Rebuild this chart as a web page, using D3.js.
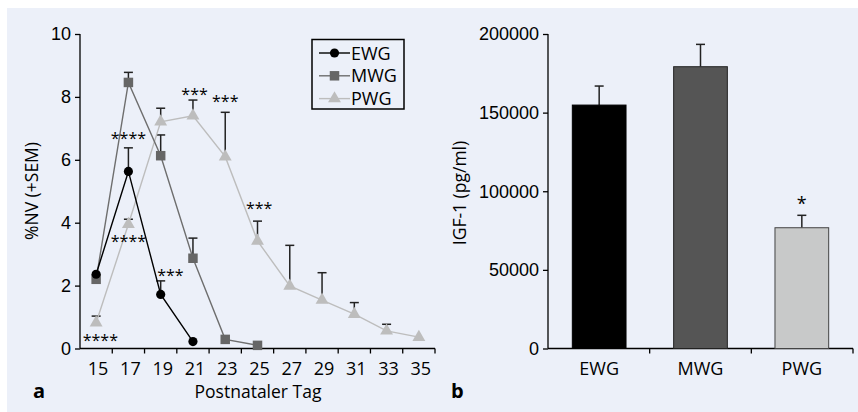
<!DOCTYPE html>
<html>
<head>
<meta charset="utf-8">
<script src="https://cdn.jsdelivr.net/npm/d3@7/dist/d3.min.js"></script>
<style>
  html, body { margin: 0; padding: 0; background: #ffffff; }
  svg { display: block; font-family: "Open Sans", "Noto Sans", sans-serif; }
</style>
</head>
<body>
<svg id="chart" width="858" height="412"></svg>
<script>
// ---------- Data: panel a ----------
const days = [15, 17, 19, 21, 23, 25, 27, 29, 31, 33, 35];
const dayTicks = [0, 2, 4, 6, 8, 10];
const seriesNames = ["EWG", "MWG", "PWG"];
const ewgDays = [15, 17, 19, 21];
const ewgMean = [2.36, 5.63, 1.72, 0.22];
const ewgTop  = [null, 6.38, 2.15, null];
const mwgDays = [15, 17, 19, 21, 23, 25];
const mwgMean = [2.2, 8.46, 6.13, 2.87, 0.29, 0.1];
const mwgTop  = [null, 8.78, 6.79, 3.51, null, null];
const pwgDays = [15, 17, 19, 21, 23, 25, 27, 29, 31, 33, 35];
const pwgMean = [0.82, 3.95, 7.21, 7.40, 6.10, 3.42, 1.99, 1.54, 1.09, 0.56, 0.36];
const pwgTop  = [1.03, 4.11, 7.64, 7.90, 7.51, 4.05, 3.28, 2.41, 1.46, 0.77, null];
// significance marks: day, shift (in bands), value of mark centre, text
const sigDays  = [17, 21, 23, 25, 17, 19, 15];
const sigShift = [0, 0.05, 0, 0.05, 0, 0.3, 0.13];
const sigValue = [6.72, 8.12, 7.9, 4.5, 3.45, 2.37, 0.3];
const sigText  = ["****", "***", "***", "***", "****", "***", "****"];

// ---------- Data: panel b ----------
const groups = ["EWG", "MWG", "PWG"];
const igfMean = [154800, 179200, 76800];
const igfTop  = [166900, 193400, 84700];
const igfTicks = [0, 50000, 100000, 150000, 200000];
const igfSig = ["", "", "*"];

// ---------- Drawing ----------
const FS = 18;
const svg = d3.select("#chart");
svg.append("rect").attr("x", 7).attr("y", 8).attr("width", 851).attr("height", 404).attr("fill", "#ecf0f9");

const styles = {
  EWG: { line: "#000000", fill: "#000000", shape: d3.symbolCircle, size: 66 },
  MWG: { line: "#6e6e6e", fill: "#666666", shape: d3.symbolSquare, size: 90 },
  PWG: { line: "#bdbdbd", fill: "#bdbdbd", shape: d3.symbolTriangle, size: 72 }
};
const series = [
  { name: "EWG", days: ewgDays, mean: ewgMean, top: ewgTop },
  { name: "MWG", days: mwgDays, mean: mwgMean, top: mwgTop },
  { name: "PWG", days: pwgDays, mean: pwgMean, top: pwgTop }
];

// Panel a
const ax = d3.scaleBand().domain(days).range([80, 435]).padding(0);
const ay = d3.scaleLinear().domain([0, 10]).range([348.5, 34]);
const ga = svg.append("g");
const cx = d => ax(d) + ax.bandwidth() / 2;

const yAxisA = ga.append("g").attr("transform", "translate(80,0)")
  .call(d3.axisLeft(ay).tickValues(dayTicks).tickSize(5).tickPadding(4));
yAxisA.select(".domain").attr("stroke-width", 1.3).attr("d", "M0,348.5V34");
yAxisA.selectAll(".tick line").attr("stroke-width", 1.3);
yAxisA.selectAll(".tick text").attr("font-size", FS).attr("font-family", null).attr("fill", "#000");

const xAxisA = ga.append("g").attr("transform", "translate(0,348.5)");
xAxisA.append("line").attr("x1", 80).attr("x2", ax.range()[1]).attr("stroke", "#000").attr("stroke-width", 1.3);
xAxisA.selectAll("line.tk").data(days.slice(1).map(d => ax(d)).concat([ax.range()[1]]))
  .join("line").attr("class", "tk").attr("x1", d => d).attr("x2", d => d).attr("y1", 0).attr("y2", 5)
  .attr("stroke", "#000").attr("stroke-width", 1.3);
xAxisA.selectAll("text").data(days).join("text")
  .attr("x", d => cx(d) + 2).attr("y", 26).attr("text-anchor", "middle")
  .attr("font-size", FS).text(d => d);

// error bars
series.forEach(s => {
  s.days.forEach((d, i) => {
    if (s.top[i] == null) return;
    const x = cx(d);
    ga.append("line").attr("x1", x).attr("x2", x).attr("y1", ay(s.mean[i])).attr("y2", ay(s.top[i]))
      .attr("stroke", "#222").attr("stroke-width", 1.5);
    ga.append("line").attr("x1", x - 4.5).attr("x2", x + 4.5).attr("y1", ay(s.top[i])).attr("y2", ay(s.top[i]))
      .attr("stroke", "#222").attr("stroke-width", 1.5);
  });
});
// lines & markers (PWG first, EWG on top)
[...series].reverse().forEach(s => {
  const st = styles[s.name];
  const line = d3.line().x((d, i) => cx(s.days[i])).y(d => ay(d));
  ga.append("path").attr("d", line(s.mean)).attr("fill", "none").attr("stroke", st.line).attr("stroke-width", 1.4);
  ga.selectAll(null).data(s.mean).join("path")
    .attr("transform", (d, i) => `translate(${cx(s.days[i])},${ay(d)})`)
    .attr("d", d3.symbol().type(st.shape).size(st.size)).attr("fill", st.fill);
});
// significance marks
sigText.forEach((t, i) => {
  ga.append("text").attr("x", cx(sigDays[i]) + sigShift[i] * ax.bandwidth())
    .attr("y", ay(sigValue[i]) + 7).attr("text-anchor", "middle")
    .attr("font-size", 16).text(t);
});
// legend
const lg = ga.append("g");
lg.append("rect").attr("x", 312).attr("y", 39.5).attr("width", 92).attr("height", 69.5)
  .attr("fill", "none").attr("stroke", "#000").attr("stroke-width", 1.5);
seriesNames.forEach((n, i) => {
  const st = styles[n];
  const y = 53 + i * 22.8;
  lg.append("line").attr("x1", 319).attr("x2", 350).attr("y1", y).attr("y2", y).attr("stroke", st.line).attr("stroke-width", 1.4);
  lg.append("path").attr("transform", `translate(334.5,${y})`).attr("d", d3.symbol().type(st.shape).size(st.size)).attr("fill", st.fill);
  lg.append("text").attr("x", 351).attr("y", y + 6.5).attr("font-size", FS).text(n);
});
// titles
ga.append("text").attr("x", 258).attr("y", 398).attr("text-anchor", "middle").attr("font-size", 17.5).text("Postnataler Tag");
ga.append("text").attr("transform", "translate(38,191) rotate(-90)").attr("text-anchor", "middle").attr("font-size", 17.5).text("%NV (+SEM)");
ga.append("text").attr("x", 33).attr("y", 398).attr("font-size", 20).attr("font-weight", "bold").text("a");

// Panel b
const bx = d3.scaleBand().domain(groups).range([548, 853]).paddingInner(0.47).paddingOuter(0.24);
const by = d3.scaleLinear().domain([0, 200000]).range([348.5, 34]);
const gb = svg.append("g");
const colors = { EWG: "#000000", MWG: "#555555", PWG: "#c8c9c9" };
const strokes = { EWG: "#000000", MWG: "#222222", PWG: "#444444" };

const yAxisB = gb.append("g").attr("transform", "translate(548,0)")
  .call(d3.axisLeft(by).tickValues(igfTicks).tickSize(5).tickPadding(4).tickFormat(d3.format("d")));
yAxisB.select(".domain").attr("stroke-width", 1.3).attr("d", "M0,348.5V34");
yAxisB.selectAll(".tick line").attr("stroke-width", 1.3);
yAxisB.selectAll(".tick text").attr("font-size", FS).attr("font-family", null).attr("fill", "#000");

const bandStep = (853 - 548) / groups.length;
const xAxisB = gb.append("g").attr("transform", "translate(0,348.5)");
xAxisB.append("line").attr("x1", 548).attr("x2", 853).attr("stroke", "#000").attr("stroke-width", 1.3);
xAxisB.selectAll("line.tk").data(groups.map((g, i) => 548 + bandStep * (i + 1)))
  .join("line").attr("class", "tk").attr("x1", d => d).attr("x2", d => d).attr("y1", 0).attr("y2", 5)
  .attr("stroke", "#000").attr("stroke-width", 1.3);
xAxisB.selectAll("text").data(groups).join("text")
  .attr("x", d => bx(d) + bx.bandwidth() / 2).attr("y", 26).attr("text-anchor", "middle")
  .attr("font-size", FS).text(d => d);

groups.forEach((g, i) => {
  const x = bx(g), w = bx.bandwidth(), c = x + w / 2;
  gb.append("line").attr("x1", c).attr("x2", c).attr("y1", by(igfMean[i])).attr("y2", by(igfTop[i]))
    .attr("stroke", "#222").attr("stroke-width", 1.5);
  gb.append("line").attr("x1", c - 4.5).attr("x2", c + 4.5).attr("y1", by(igfTop[i])).attr("y2", by(igfTop[i]))
    .attr("stroke", "#222").attr("stroke-width", 1.5);
  gb.append("rect").attr("x", x).attr("y", by(igfMean[i])).attr("width", w).attr("height", by(0) - by(igfMean[i]))
    .attr("fill", colors[g]).attr("stroke", strokes[g]).attr("stroke-width", 1);
  if (igfSig[i]) gb.append("text").attr("x", c).attr("y", by(igfTop[i]) - 5).attr("text-anchor", "middle")
    .attr("font-size", 18).text(igfSig[i]);
});
gb.append("text").attr("transform", "translate(466,193) rotate(-90)").attr("text-anchor", "middle").attr("font-size", 17.5).text("IGF-1 (pg/ml)");
gb.append("text").attr("x", 451).attr("y", 398).attr("font-size", 20).attr("font-weight", "bold").text("b");
</script>
</body>
</html>
